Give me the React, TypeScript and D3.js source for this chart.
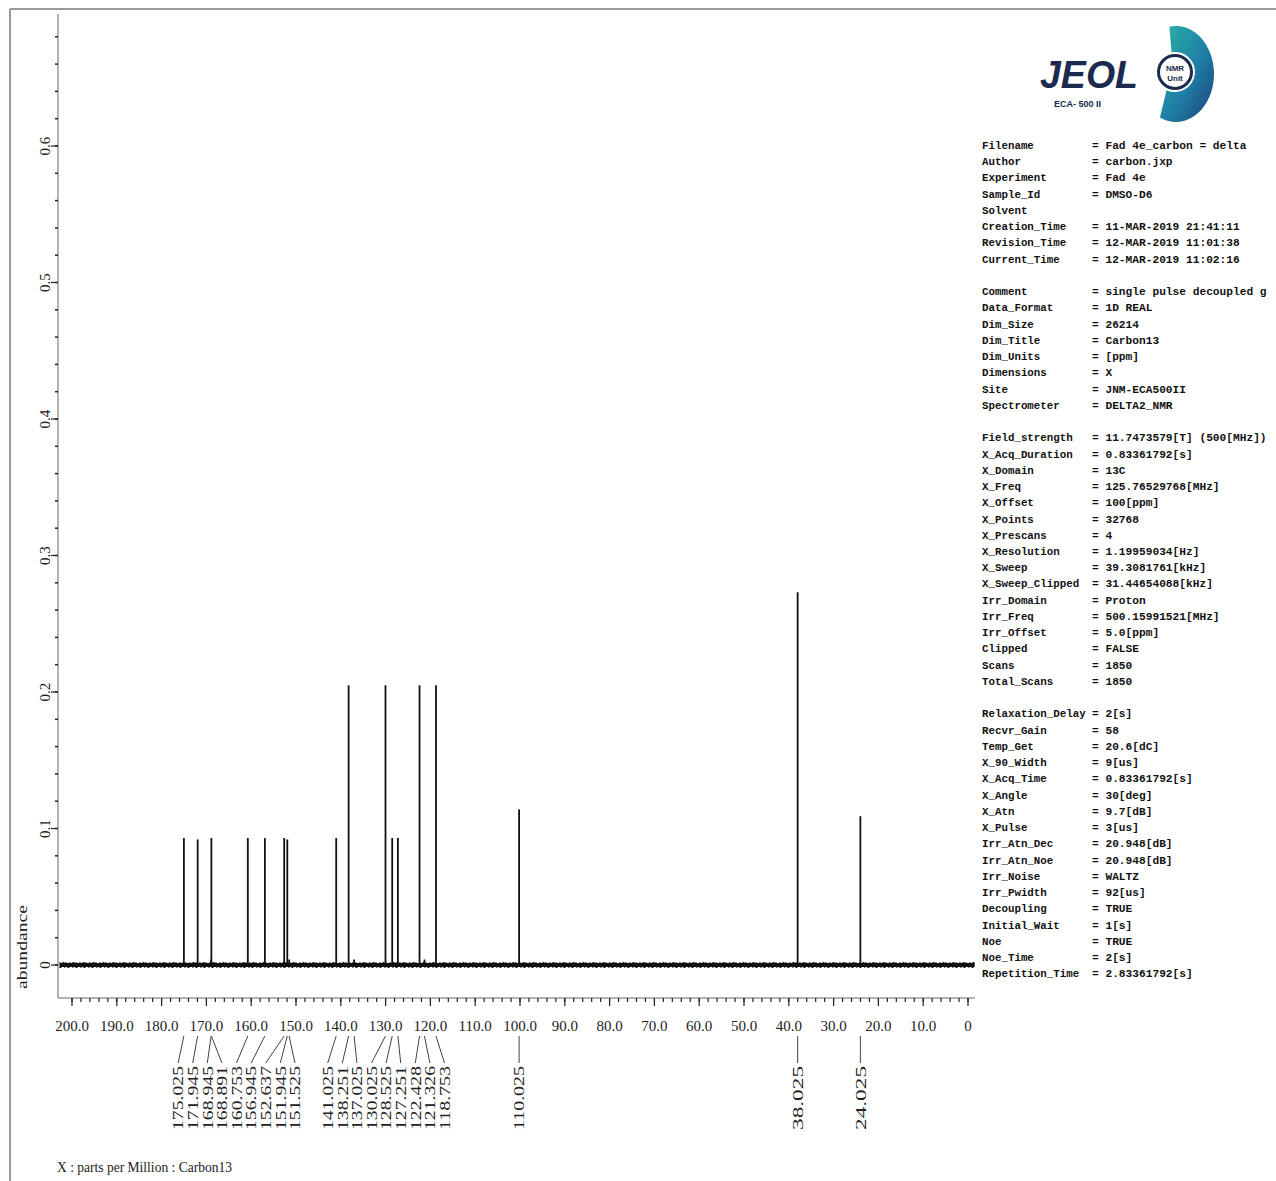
import * as d3 from 'd3'

// peak positions (ppm, as drawn), heights (abundance) and their printed labels
const PEAK_PPM = [175.025, 171.945, 168.945, 168.891, 160.753, 156.945, 152.637, 151.945, 151.525,
  141.025, 138.251, 137.025, 130.025, 128.525, 127.251, 122.428, 121.326, 118.753,
  100.2, 38.025, 24.025]
const PEAK_HEIGHT = [0.093, 0.092, 0.004, 0.093, 0.093, 0.093, 0.093, 0.092, 0.004,
  0.093, 0.205, 0.004, 0.205, 0.093, 0.093, 0.205, 0.004, 0.205,
  0.114, 0.273, 0.109]
const PEAK_LABEL = ['175.025', '171.945', '168.945', '168.891', '160.753', '156.945', '152.637', '151.945', '151.525',
  '141.025', '138.251', '137.025', '130.025', '128.525', '127.251', '122.428', '121.326', '118.753',
  '110.025', '38.025', '24.025']

const X_TICKS = [200, 190, 180, 170, 160, 150, 140, 130, 120, 110, 100, 90, 80, 70, 60, 50, 40, 30, 20, 10, 0]
const X_TICK_LABELS = ['200.0', '190.0', '180.0', '170.0', '160.0', '150.0', '140.0', '130.0', '120.0', '110.0',
  '100.0', '90.0', '80.0', '70.0', '60.0', '50.0', '40.0', '30.0', '20.0', '10.0', '0']
const Y_TICKS = [0, 0.1, 0.2, 0.3, 0.4, 0.5, 0.6]
const Y_TICK_LABELS = ['0', '0.1', '0.2', '0.3', '0.4', '0.5', '0.6']

const PARAM_KEYS = [
  'Filename', 'Author', 'Experiment', 'Sample_Id', 'Solvent', 'Creation_Time', 'Revision_Time', 'Current_Time', '',
  'Comment', 'Data_Format', 'Dim_Size', 'Dim_Title', 'Dim_Units', 'Dimensions', 'Site', 'Spectrometer', '',
  'Field_strength', 'X_Acq_Duration', 'X_Domain', 'X_Freq', 'X_Offset', 'X_Points', 'X_Prescans', 'X_Resolution',
  'X_Sweep', 'X_Sweep_Clipped', 'Irr_Domain', 'Irr_Freq', 'Irr_Offset', 'Clipped', 'Scans', 'Total_Scans', '',
  'Relaxation_Delay', 'Recvr_Gain', 'Temp_Get', 'X_90_Width', 'X_Acq_Time', 'X_Angle', 'X_Atn', 'X_Pulse',
  'Irr_Atn_Dec', 'Irr_Atn_Noe', 'Irr_Noise', 'Irr_Pwidth', 'Decoupling', 'Initial_Wait', 'Noe', 'Noe_Time', 'Repetition_Time',
]
const PARAM_VALUES = [
  'Fad 4e_carbon  = delta', 'carbon.jxp', 'Fad 4e', 'DMSO-D6', null, '11-MAR-2019  21:41:11', '12-MAR-2019  11:01:38', '12-MAR-2019  11:02:16', null,
  'single pulse decoupled g', '1D REAL', '26214', 'Carbon13', '[ppm]', 'X', 'JNM-ECA500II', 'DELTA2_NMR', null,
  '11.7473579[T] (500[MHz])', '0.83361792[s]', '13C', '125.76529768[MHz]', '100[ppm]', '32768', '4', '1.19959034[Hz]',
  '39.3081761[kHz]', '31.44654088[kHz]', 'Proton', '500.15991521[MHz]', '5.0[ppm]', 'FALSE', '1850', '1850', null,
  '2[s]', '58', '20.6[dC]', '9[us]', '0.83361792[s]', '30[deg]', '9.7[dB]', '3[us]',
  '20.948[dB]', '20.948[dB]', 'WALTZ', '92[us]', 'TRUE', '1[s]', 'TRUE', '2[s]', '2.83361792[s]',
]

const serif = '"Liberation Serif", "DejaVu Serif", serif'
const mono = '"Liberation Mono", "DejaVu Sans Mono", monospace'
const sans = '"Liberation Sans", Arial, sans-serif'

type Cluster = { idx: number[]; lo: number; hi: number }

// spread labels so they do not overlap; each cluster is centred on the middle of its peaks
function spreadLabels(xs: number[], gap: number, joinDist: number): number[] {
  const order = xs.map((_, i) => i).sort((a, b) => xs[a] - xs[b])
  const clusters: Cluster[] = order.map((i) => ({ idx: [i], lo: xs[i], hi: xs[i] }))
  const start = (c: Cluster) => (c.lo + c.hi) / 2 - ((c.idx.length - 1) * gap) / 2
  let merged = true
  while (merged) {
    merged = false
    for (let k = 1; k < clusters.length; k++) {
      const a = clusters[k - 1]
      const b = clusters[k]
      const aEnd = start(a) + (a.idx.length - 1) * gap
      if (start(b) - aEnd < joinDist) {
        clusters.splice(k - 1, 2, { idx: a.idx.concat(b.idx), lo: Math.min(a.lo, b.lo), hi: Math.max(a.hi, b.hi) })
        merged = true
        break
      }
    }
  }
  const out: number[] = new Array(xs.length)
  clusters.forEach((c) => {
    const s = start(c)
    c.idx.forEach((i, j) => (out[i] = s + j * gap))
  })
  return out
}

export default function App() {
  const W = 1276
  const H = 1181
  const x = d3.scaleLinear().domain([200, 0]).range([72, 968])
  const y = d3.scaleLinear().domain([0, 0.6]).range([965, 146])
  const axisY = 998
  const axisX = 58

  const minorX = d3.range(0, 201, 2)
  const minorY = d3.range(0, 0.7, 0.02)

  const peakX = PEAK_PPM.map((p) => x(p))
  const labelX = spreadLabels(peakX, 14.6, 30)
  const labelTop = 1064

  const baseline = d3.line<number>().x((p) => x(p)).y(() => y(0))
  const baseD = baseline([202.8, -1.5]) ?? ''

  const rowY = (i: number) => 149 + i * 16.24

  // logo crescent
  const cx = 1176, cy = 74, rx = 38, ry = 48, ir = 20, icx = 1175, icy = 72
  const a0 = (-100 * Math.PI) / 180, a1 = (115 * Math.PI) / 180
  const swoosh = `M${cx + rx * Math.cos(a0)},${cy + ry * Math.sin(a0)} A${rx},${ry} 0 1 1 ${cx + rx * Math.cos(a1)},${cy + ry * Math.sin(a1)} L${icx + ir * Math.cos(a1)},${icy + ir * Math.sin(a1)} A${ir},${ir} 0 1 0 ${icx + ir * Math.cos(a0)},${icy + ir * Math.sin(a0)} Z`

  return (
    <svg width={W} height={H} style={{ display: 'block', position: 'absolute', left: 0, top: 0, background: '#fff' }}>
      <defs>
        <linearGradient id="sw" x1="0" y1="0" x2="1" y2="1">
          <stop offset="0" stopColor="#2bb3a8" />
          <stop offset="0.55" stopColor="#1f7fa6" />
          <stop offset="1" stopColor="#1c3f78" />
        </linearGradient>
      </defs>

      {/* frame */}
      <line x1={10} x2={W} y1={9} y2={9} stroke="#9a9a9a" strokeWidth={2} />
      <line x1={10} x2={10} y1={9} y2={H} stroke="#9a9a9a" strokeWidth={2} />

      {/* axes */}
      <line x1={axisX} x2={axisX} y1={14} y2={axisY} stroke="#9a9a9a" strokeWidth={1.5} />
      <line x1={axisX} x2={975} y1={axisY} y2={axisY} stroke="#9a9a9a" strokeWidth={1.5} />
      {minorY.map((v) => (
        <line key={'my' + v} x1={axisX - 3} x2={axisX} y1={y(v)} y2={y(v)} stroke="#222" strokeWidth={1.5} />
      ))}
      {Y_TICKS.map((v, i) => (
        <g key={'yt' + v}>
          <line x1={axisX - 7} x2={axisX} y1={y(v)} y2={y(v)} stroke="#222" strokeWidth={1.2} />
          <text transform={`translate(45,${y(v)}) rotate(-90)`} textAnchor="middle" dy="0.35em"
            fontFamily={serif} fontSize={15} fill="#222">{Y_TICK_LABELS[i]}</text>
        </g>
      ))}
      <text transform={`translate(22,947) rotate(-90)`} textAnchor="middle" dy="0.35em"
        fontFamily={serif} fontSize={15} fill="#222" textLength={84} lengthAdjust="spacingAndGlyphs">abundance</text>

      {minorX.map((v) => (
        <line key={'mx' + v} x1={x(v)} x2={x(v)} y1={axisY} y2={axisY + 4} stroke="#222" strokeWidth={1.2} />
      ))}
      {X_TICKS.map((v, i) => (
        <g key={'xt' + v}>
          <line x1={x(v)} x2={x(v)} y1={axisY} y2={axisY + 8} stroke="#222" strokeWidth={1.2} />
          <text x={x(v)} y={1031} textAnchor="middle" fontFamily={serif} fontSize={15} fill="#222">{X_TICK_LABELS[i]}</text>
        </g>
      ))}

      {/* spectrum baseline (noise band) */}
      <path d={baseD} stroke="#111" strokeWidth={4} fill="none" />
      <path d={baseD} transform="translate(0,-2.5)" stroke="#111" strokeWidth={1.2}
        strokeDasharray="1 2 2 1 1 3" fill="none" />
      <path d={baseD} transform="translate(0,2.5)" stroke="#111" strokeWidth={1.2}
        strokeDasharray="2 3 1 2" fill="none" />

      {/* peaks */}
      {PEAK_PPM.map((p, i) => (
        <line key={'pk' + i} x1={x(p)} x2={x(p)} y1={y(0)} y2={y(PEAK_HEIGHT[i])} stroke="#111" strokeWidth={1.8} />
      ))}

      {/* peak labels */}
      {PEAK_LABEL.map((t, i) => (
        <g key={'pl' + i}>
          <line x1={peakX[i]} x2={labelX[i]} y1={1036} y2={labelTop - 1} stroke="#444" strokeWidth={1} />
          <text transform={`translate(${labelX[i]},${labelTop + 2}) rotate(-90)`} textAnchor="end" dy="0.35em"
            fontFamily={serif} fontSize={15} textLength={64} lengthAdjust="spacingAndGlyphs" fill="#222">{t}</text>
        </g>
      ))}

      <text x={57} y={1172} fontFamily={serif} fontSize={15} fill="#222" textLength={175} lengthAdjust="spacingAndGlyphs">X : parts per Million : Carbon13</text>

      {/* logo */}
      <text x={1040} y={88} fontFamily={sans} fontWeight="bold" fontStyle="italic"
        fontSize={39} fill="#1b2a4e" textLength={98} lengthAdjust="spacingAndGlyphs">JEOL</text>
      <text x={1054} y={107} fontFamily={sans} fontWeight="bold" fontSize={9} fill="#1b2a4e">ECA- 500 II</text>
      <path d={swoosh} fill="url(#sw)" />
      <circle cx={icx} cy={icy} r={16.5} fill="#fff" stroke="#1b2a4e" strokeWidth={3} />
      <text x={icx} y={icy - 1} textAnchor="middle" fontFamily={sans} fontWeight="bold" fontSize={8} fill="#1b2a4e">NMR</text>
      <text x={icx} y={icy + 9} textAnchor="middle" fontFamily={sans} fontWeight="bold" fontSize={8} fill="#1b2a4e">Unit</text>

      {/* parameter list */}
      {PARAM_KEYS.map((k, i) => (k ? (
        <g key={'pr' + i}>
          <text x={982} y={rowY(i)} fontFamily={mono} fontWeight="bold" fontSize={10.8} fill="#111">{k}</text>
          {PARAM_VALUES[i] !== null && (
            <text x={1092} y={rowY(i)} fontFamily={mono} fontWeight="bold" fontSize={11.2} fill="#111">{'= ' + PARAM_VALUES[i]}</text>
          )}
        </g>
      ) : null))}
    </svg>
  )
}
